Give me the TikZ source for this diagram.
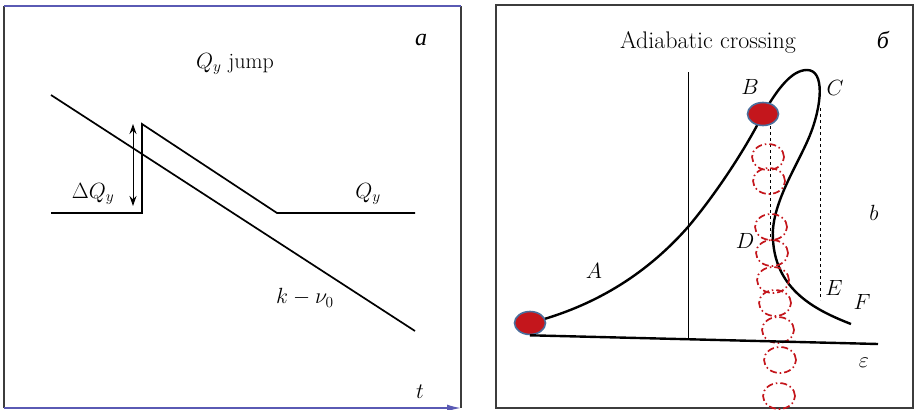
\documentclass[tikz,border=0pt]{standalone}
\usepackage{fix-cm}
\usepackage{fontspec}
\newfontfamily\cyrfont{Liberation Serif}
\usepackage{xcolor}
\usetikzlibrary{arrows.meta,shapes.geometric}

\definecolor{framegray}{HTML}{3C3C3C}
\definecolor{frameblue}{HTML}{5A5AB4}
\definecolor{dotred}{HTML}{C4161C}
\definecolor{dotrim}{HTML}{4A6E9C}

\begin{document}
\begin{tikzpicture}[
  x=1pt, y=-1pt,
  font=\fontsize{22}{26}\selectfont,
  frame/.style={draw=framegray, line width=1.3pt},
  bluefr/.style={draw=frameblue, line width=1.6pt},
  graph/.style={line width=1.7pt},
  curve/.style={line width=2.4pt},
  guide/.style={dashed, line width=0.9pt},
  dot/.style={ellipse, draw=dotrim, line width=1.6pt, fill=dotred, minimum width=31pt, minimum height=23pt, inner sep=0pt},
  ring/.style={draw=dotred, line width=1.7pt, dash pattern=on 7pt off 3pt on 1.5pt off 3pt},
  lbl/.style={inner sep=0pt}
]
\useasboundingbox (0,0) rectangle (914,410);

% left panel
\draw[frame] (4,6) -- (4,408);
\draw[frame] (461,6) -- (461,408);
\draw[bluefr] (4,6) -- (461,6);
\draw[bluefr, -{Latex[length=14pt, width=7pt]}] (4,408) -- (461,408);

\coordinate (kStart) at (51,95);
\coordinate (kEnd) at (415,331);
\coordinate (qStart) at (51,213);
\coordinate (qUp) at (142,213);
\coordinate (qTop) at (142,124);
\coordinate (qKnee) at (277,213);
\coordinate (qEnd) at (415,213);
\coordinate (arrTop) at (133,124);
\coordinate (arrBot) at (133,206);

\draw[graph] (kStart) -- (kEnd);
\draw[graph] (qStart) -- (qUp) -- (qTop) -- (qKnee) -- (qEnd);
\draw[{Stealth[length=10pt, width=7pt]}-{Stealth[length=10pt, width=7pt]}, line width=1pt] (arrTop) -- (arrBot);

\node[lbl] (panA) at (421,40) {\cyrfont\itshape\fontsize{24}{28}\selectfont а};
\node[lbl] (jump) at (235,64) {$Q_y$~jump};
\node[lbl] (dQ) at (93,194) {$\Delta Q_y$};
\node[lbl] (Qy) at (368,194) {$Q_y$};
\node[lbl] (knu) at (305,298) {$k-\nu_0$};
\node[lbl] (tlbl) at (420,392) {$t$};

% right panel
\draw[frame] (496,5) rectangle (913,408);

\coordinate (pA) at (530,323);
\coordinate (pCross) at (688,227);
\coordinate (pB) at (763,114);
\coordinate (pTop) at (807,70);
\coordinate (pRight) at (810,135);
\coordinate (pD) at (773,240);
\coordinate (fEnd) at (851,324);
\coordinate (vTop) at (688,72);
\coordinate (vBot) at (688,339);
\coordinate (epsEnd) at (878,344);
\coordinate (bTop) at (770,126);
\coordinate (dBot) at (770,237);
\coordinate (cTop) at (820,108);
\coordinate (eBot) at (820,300);

\draw[line width=1pt] (vTop) -- (vBot);
\draw[guide] (bTop) -- (dBot);
\draw[guide] (cTop) -- (eBot);
\draw[curve] (pA) .. controls (600,305) and (650,270) .. (pCross)
  .. controls (715,195) and (745,150) .. (pB)
  .. controls (778,88) and (792,70) .. (pTop)
  .. controls (825,70) and (822,105) .. (pRight)
  .. controls (798,165) and (770,205) .. (pD)
  .. controls (776,290) and (815,310) .. (fEnd);

\foreach \cx/\cy in {768/157, 769/181, 771/227, 772/253, 773/280, 775/303, 778/330, 780/360, 779/396}
  \draw[ring] (\cx,\cy) ellipse [x radius=16pt, y radius=13pt];

\node[dot] (dotA) at (pA) {};
\node[dot] (dotB) at (pB) {};
\draw[curve] (dotA.south) -- (epsEnd);

\node[lbl] (title) at (708,42) {\fontsize{24}{28}\selectfont Adiabatic crossing};
\node[lbl] (panB) at (883,40) {\cyrfont\itshape\fontsize{24}{28}\selectfont б};
\node[lbl] (lB) at (750,87) {$B$};
\node[lbl] (lC) at (835,88) {$C$};
\node[lbl] (lb) at (874,213) {$b$};
\node[lbl] (lD) at (745,241) {$D$};
\node[lbl] (lA) at (594,271) {$A$};
\node[lbl] (lE) at (834,288) {$E$};
\node[lbl] (lF) at (862,302) {$F$};
\node[lbl] (leps) at (864,363) {$\varepsilon$};
\end{tikzpicture}
\end{document}
